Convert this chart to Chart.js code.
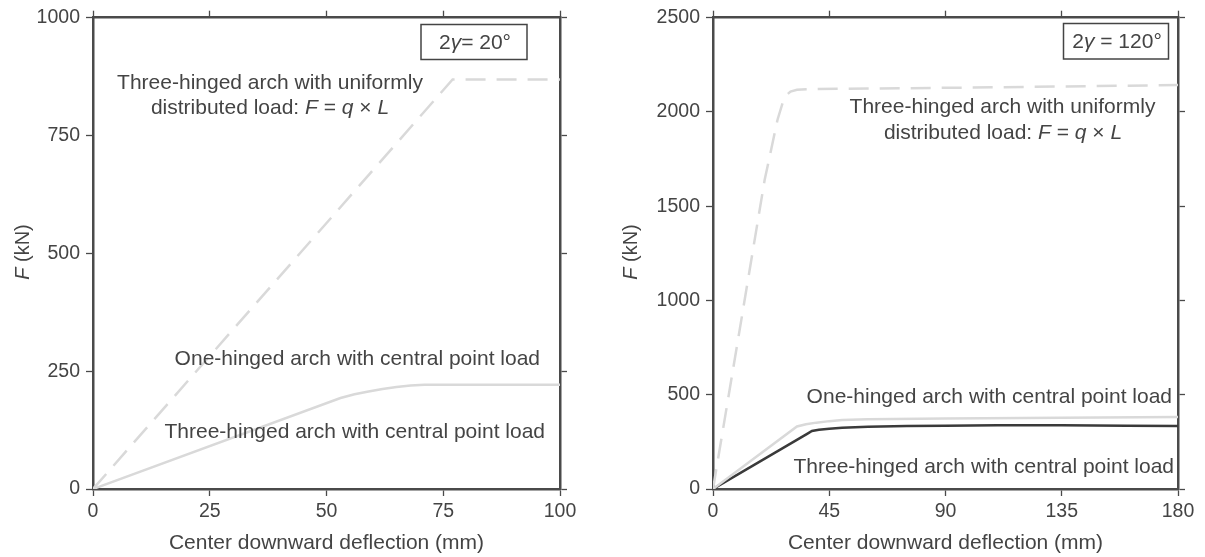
<!DOCTYPE html>
<html><head><meta charset="utf-8">
<script src="https://cdn.jsdelivr.net/npm/chart.js@4"></script>
<style>
html,body{margin:0;padding:0;background:#fff;width:1205px;height:557px;overflow:hidden}
canvas{position:absolute;top:0}
#c1{left:0}
#c2{left:600px}
</style></head><body>
<canvas id="c1" width="600" height="557"></canvas>
<canvas id="c2" width="605" height="557"></canvas>
<script>
// ---------- data ----------
// Left panel: 2γ = 20°
const leftXTicks = [0, 25, 50, 75, 100];
const leftYTicks = [0, 250, 500, 750, 1000];
const leftUdlX = [0, 77, 100];
const leftUdlY = [0, 869, 869];
const leftPointX = [0, 53, 56, 59, 62, 65, 68, 71, 100];
const leftPointY = [0, 193, 201, 207, 212, 216.5, 219.5, 221, 221];

// Right panel: 2γ = 120°
const rightXTicks = [0, 45, 90, 135, 180];
const rightYTicks = [0, 500, 1000, 1500, 2000, 2500];
const rightUdlX = [0, 11, 20, 25, 27, 28.5, 30, 32.5, 40, 90, 135, 180];
const rightUdlY = [0, 900, 1640, 1960, 2050, 2090, 2108, 2118, 2122, 2128, 2135, 2143];
const rightOneX = [0, 32.5, 36, 40, 45, 50, 60, 90, 135, 180];
const rightOneY = [0, 332, 343, 352, 360, 366, 370, 374, 378, 382];
const rightThreeX = [0, 36.6, 38.3, 41, 45, 50, 60, 75, 90, 110, 135, 160, 180];
const rightThreeY = [0, 294, 308, 314, 320, 325, 330, 334, 336, 338, 338, 336, 334];

// ---------- styling ----------
const FONT = '"Liberation Sans", Arial, Helvetica, sans-serif';
const TXT = '#444';
const AX = '#4a4a4a';
const LIGHT = '#d9d9d9';
const DARK = '#3a3a3a';

function pts(xs, ys) { return xs.map((x, i) => ({x: x, y: ys[i]})); }

function drawSegs(ctx, segs, x, y, align, size) {
  let w = 0;
  segs.forEach(s => {
    ctx.font = (s[1] ? 'italic ' : '') + size + 'px ' + FONT;
    w += ctx.measureText(s[0]).width;
  });
  let cx = align === 'center' ? x - w / 2 : (align === 'right' ? x - w : x);
  ctx.textAlign = 'left';
  ctx.textBaseline = 'middle';
  ctx.fillStyle = TXT;
  segs.forEach(s => {
    ctx.font = (s[1] ? 'italic ' : '') + size + 'px ' + FONT;
    ctx.fillText(s[0], cx, y);
    cx += ctx.measureText(s[0]).width;
  });
}

function annotPlugin(cfg) {
  return {
    id: 'annot',
    afterDraw(chart) {
      const ctx = chart.ctx;
      ctx.save();
      cfg.texts.forEach(t => drawSegs(ctx, t.segs, t.x, t.y, t.align, 21));
      // box label
      const b = cfg.box;
      ctx.strokeStyle = TXT;
      ctx.lineWidth = 1.5;
      ctx.strokeRect(b.x, b.y, b.w, b.h);
      drawSegs(ctx, b.segs, b.x + b.w / 2 + 1, b.y + b.h / 2 + 1, 'center', 21);
      // y title, rotated
      ctx.translate(cfg.ytitle.x, cfg.ytitle.y);
      ctx.rotate(-Math.PI / 2);
      drawSegs(ctx, [['F', 1], [' (kN)', 0]], 0, 0, 'center', 20);
      ctx.restore();
    }
  };
}

function scalesFor(xTicks, yTicks, yw, y2w) {
  const xmin = xTicks[0], xmax = xTicks[xTicks.length - 1];
  const ymin = yTicks[0], ymax = yTicks[yTicks.length - 1];
  const xs = xTicks[1] - xTicks[0], ys = yTicks[1] - yTicks[0];
  const grid = {drawOnChartArea: false, drawTicks: true, tickLength: 7, tickColor: AX, tickWidth: 1.3};
  const border = {display: true, color: AX, width: 2.5};
  const tickFont = {family: FONT, size: 19.5};
  return {
    x: {type: 'linear', position: 'bottom', min: xmin, max: xmax,
        ticks: {stepSize: xs, color: TXT, font: tickFont, padding: 4, maxRotation: 0, callback: v => String(v)},
        grid: grid, border: border,
        title: {display: true, text: 'Center downward deflection (mm)', color: TXT,
                font: {family: FONT, size: 21}, padding: {top: 0, bottom: 1}},
        afterFit: s => { s.height = 68; }},
    x2: {type: 'linear', position: 'top', min: xmin, max: xmax,
        ticks: {stepSize: xs, display: false},
        grid: grid, border: border,
        afterFit: s => { s.height = 15; }},
    y: {type: 'linear', position: 'left', min: ymin, max: ymax,
        ticks: {stepSize: ys, color: TXT, font: tickFont, padding: 6, callback: v => String(v)},
        grid: grid, border: border,
        afterFit: s => { s.width = yw; }},
    y2: {type: 'linear', position: 'right', min: ymin, max: ymax,
        ticks: {stepSize: ys, display: false},
        grid: grid, border: border,
        afterFit: s => { s.width = y2w; }}
  };
}

const baseOpts = {
  responsive: false, animation: false, devicePixelRatio: 1,
  layout: {padding: 0},
  plugins: {legend: {display: false}, tooltip: {enabled: false}},
  elements: {point: {radius: 0}, line: {tension: 0, borderCapStyle: 'butt'}}
};

new Chart(document.getElementById('c1'), {
  type: 'line',
  data: {datasets: [
    {label: 'Three-hinged arch with uniformly distributed load', data: pts(leftUdlX, leftUdlY),
     borderColor: LIGHT, borderWidth: 2.5, borderDash: [20, 11], fill: false},
    {label: 'One-/Three-hinged arch with central point load', data: pts(leftPointX, leftPointY),
     borderColor: LIGHT, borderWidth: 2.5, fill: false}
  ]},
  options: Object.assign({}, baseOpts, {scales: scalesFor(leftXTicks, leftYTicks, 93, 40)}),
  plugins: [annotPlugin({
    texts: [
      {segs: [['Three-hinged arch with uniformly', 0]], x: 270, y: 83, align: 'center'},
      {segs: [['distributed load: ', 0], ['F', 1], [' = ', 0], ['q', 1], [' × ', 0], ['L', 1]], x: 270, y: 108, align: 'center'},
      {segs: [['One-hinged arch with central point load', 0]], x: 540, y: 359, align: 'right'},
      {segs: [['Three-hinged arch with central point load', 0]], x: 545, y: 432, align: 'right'}
    ],
    box: {x: 421, y: 24.5, w: 106, h: 35, segs: [['2', 0], ['γ', 1], ['= 20°', 0]]},
    ytitle: {x: 23, y: 252}
  })]
});

new Chart(document.getElementById('c2'), {
  type: 'line',
  data: {datasets: [
    {label: 'Three-hinged arch with uniformly distributed load', data: pts(rightUdlX, rightUdlY),
     borderColor: LIGHT, borderWidth: 2.5, borderDash: [20, 11], fill: false},
    {label: 'One-hinged arch with central point load', data: pts(rightOneX, rightOneY),
     borderColor: LIGHT, borderWidth: 2.5, fill: false},
    {label: 'Three-hinged arch with central point load', data: pts(rightThreeX, rightThreeY),
     borderColor: DARK, borderWidth: 2.5, fill: false}
  ]},
  options: Object.assign({}, baseOpts, {scales: scalesFor(rightXTicks, rightYTicks, 113, 27)}),
  plugins: [annotPlugin({
    texts: [
      {segs: [['Three-hinged arch with uniformly', 0]], x: 402.5, y: 107, align: 'center'},
      {segs: [['distributed load: ', 0], ['F', 1], [' = ', 0], ['q', 1], [' × ', 0], ['L', 1]], x: 403, y: 133, align: 'center'},
      {segs: [['One-hinged arch with central point load', 0]], x: 572, y: 397, align: 'right'},
      {segs: [['Three-hinged arch with central point load', 0]], x: 574, y: 467, align: 'right'}
    ],
    box: {x: 463.5, y: 23.5, w: 105, h: 35.5, segs: [['2', 0], ['γ', 1], [' = 120°', 0]]},
    ytitle: {x: 31, y: 252}
  })]
});
</script>
</body></html>
